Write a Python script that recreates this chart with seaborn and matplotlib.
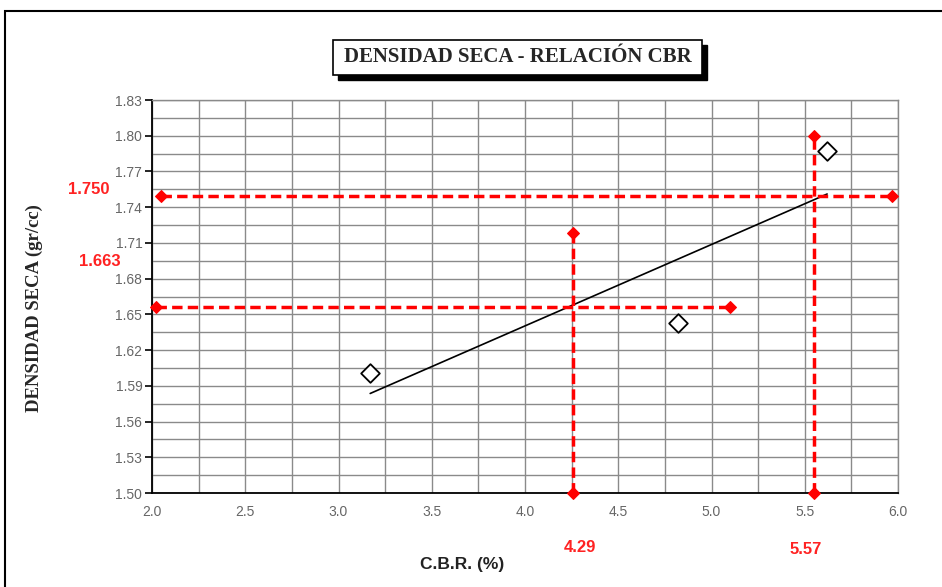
import matplotlib
matplotlib.use("Agg")
import matplotlib.pyplot as plt
import seaborn as sns
import numpy as np
import pandas as pd
from matplotlib.patches import Rectangle

# ---- data ----
cbr = [3.17, 4.82, 5.62]
densidad = [1.601, 1.643, 1.787]

h1_x = [2.05, 5.97]; h1_y = [1.749, 1.749]
h2_x = [2.02, 5.10]; h2_y = [1.656, 1.656]
v1_x = [4.26, 4.26]; v1_y = [1.50, 1.718]
v2_x = [5.55, 5.55]; v2_y = [1.50, 1.80]

x_ticks = [2.0, 2.5, 3.0, 3.5, 4.0, 4.5, 5.0, 5.5, 6.0]
y_ticks = [1.50, 1.53, 1.56, 1.59, 1.62, 1.65, 1.68, 1.71, 1.74, 1.77, 1.80, 1.83]
label_dens = ["1.750", "1.663"]
label_cbr = ["4.29", "5.57"]
title = "DENSIDAD SECA - RELACIÓN CBR"
xlabel = "C.B.R. (%)"
ylabel = "DENSIDAD SECA (gr/cc)"

sns.set_theme(style="white")
plt.rcParams['font.family'] = ['Liberation Sans', 'DejaVu Sans']

fig = plt.figure(figsize=(9.42, 5.87), dpi=100)
ax = fig.add_axes([152/942, 1-493/587, 746/942, 393/587])

df = pd.DataFrame({"cbr": cbr, "dens": densidad})

# grid
ax.set_xlim(2.0, 6.0)
ax.set_ylim(1.50, 1.83)
ax.set_xticks(np.arange(2.0, 6.01, 0.25), minor=True)
ax.set_yticks(np.arange(1.50, 1.8301, 0.015), minor=True)
ax.set_xticks(x_ticks)
ax.set_yticks(y_ticks)
ax.set_xticklabels([f"{v:.1f}" for v in x_ticks])
ax.set_yticklabels([f"{v:.2f}" for v in y_ticks])
ax.grid(True, which="both", color="#8a8a8a", linewidth=1.0)
ax.set_axisbelow(True)

for s in ["top", "right"]:
    ax.spines[s].set_color("#8a8a8a")
    ax.spines[s].set_linewidth(1.0)
for s in ["left", "bottom"]:
    ax.spines[s].set_color("black")
    ax.spines[s].set_linewidth(1.3)

ax.tick_params(axis="y", which="major", direction="out", length=5, width=1.2,
               color="black", left=True, labelsize=10, labelcolor="#666666", pad=2)
ax.tick_params(axis="y", which="minor", left=False)
ax.tick_params(axis="x", which="both", bottom=False, labelsize=10,
               labelcolor="#666666", pad=3)

# trend line (linear regression of the points)
sns.regplot(data=df, x="cbr", y="dens", ax=ax, scatter=False, ci=None,
            truncate=True, color="black", line_kws={"linewidth": 1.2})

# red guide lines
red = "#ff0000"
for xs, ys in [(h1_x, h1_y), (h2_x, h2_y), (v1_x, v1_y), (v2_x, v2_y)]:
    sns.lineplot(x=xs, y=ys, ax=ax, color=red, linewidth=2.5, marker="D",
                 markersize=6, markeredgecolor=red, dashes=False,
                 linestyle=(0, (3, 1.5)), clip_on=False, sort=False,
                 estimator=None, zorder=4)

# points
sns.scatterplot(data=df, x="cbr", y="dens", ax=ax, marker="D", s=90,
                facecolor="white", edgecolor="black", linewidth=1.3, zorder=5)

ax.set_xlabel("")
ax.set_ylabel("")

# axis labels
fig.text(462/942, 1-565/587, xlabel, ha="center", va="center",
         fontsize=12.5, fontweight="bold", color="#222222")
fig.text(34/942, 1-308/587, ylabel, ha="center", va="center", rotation=90,
         fontsize=13.5, fontweight="bold", family=["Liberation Serif"])

# red value labels
rc = "#ff2222"
fig.text(89/942, 1-190/587, label_dens[0], ha="center", va="center",
         fontsize=12, fontweight="bold", color=rc)
fig.text(100/942, 1-262/587, label_dens[1], ha="center", va="center",
         fontsize=12, fontweight="bold", color=rc)
fig.text(580/942, 1-548/587, label_cbr[0], ha="center", va="center",
         fontsize=12, fontweight="bold", color=rc)
fig.text(806/942, 1-550/587, label_cbr[1], ha="center", va="center",
         fontsize=12, fontweight="bold", color=rc)

# title box with shadow
bx0, by0, bx1, by1 = 333, 40, 702, 75
fig.patches.append(Rectangle(((bx0+5)/942, 1-(by1+5)/587), (bx1-bx0)/942, (by1-by0)/587,
                             transform=fig.transFigure, facecolor="black",
                             edgecolor="black", zorder=1))
fig.patches.append(Rectangle((bx0/942, 1-by1/587), (bx1-bx0)/942, (by1-by0)/587,
                             transform=fig.transFigure, facecolor="white",
                             edgecolor="black", linewidth=1.2, zorder=2))
fig.text((bx0+bx1)/2/942, 1-(by0+by1)/2/587, title, ha="center", va="center",
         fontsize=15, fontweight="bold", family=["Liberation Serif"], zorder=3)

# outer frame (cut at right and bottom)
fig.patches.append(Rectangle((5/942, -0.05), 1.0, 1-11/587+0.05,
                             transform=fig.transFigure, facecolor="none",
                             edgecolor="black", linewidth=1.5, zorder=0))

fig.savefig("out.png", dpi=100)
